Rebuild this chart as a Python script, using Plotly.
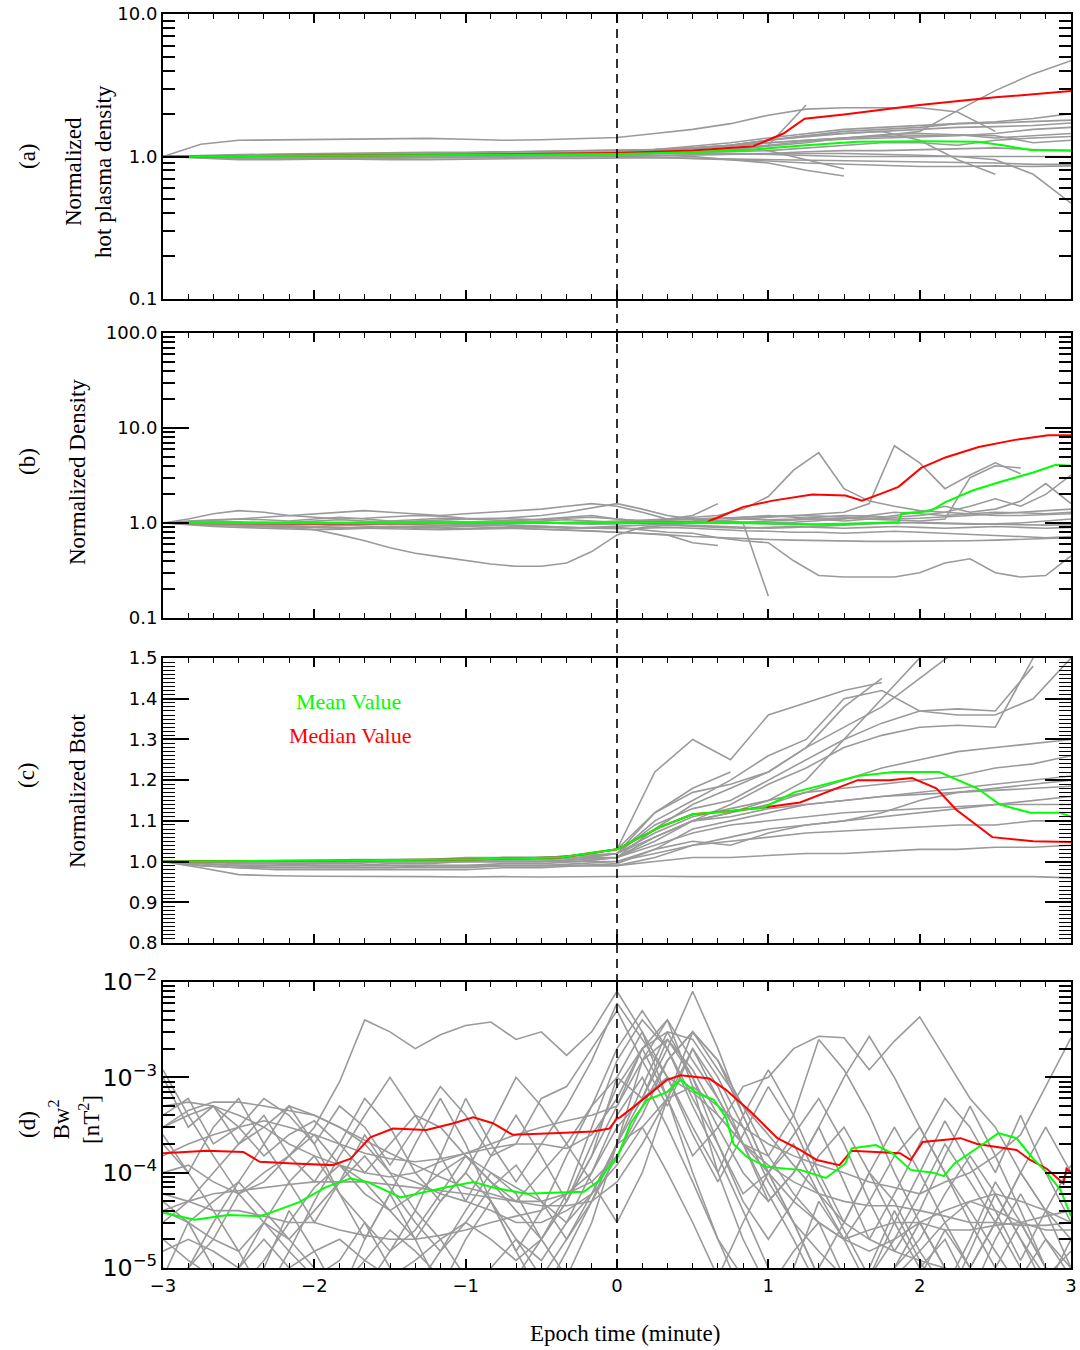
import plotly.graph_objects as go

# ---------------- time grids (minutes) ----------------
T_A = [-3.0, -2.75, -2.5, -2.25, -2.0, -1.75, -1.5, -1.25, -1.0, -0.75, -0.5, -0.25, 0.0,
       0.25, 0.5, 0.75, 1.0, 1.25, 1.5, 1.75, 2.0, 2.25, 2.5, 2.75, 3.0]
T_B = [-3.0, -2.833, -2.667, -2.5, -2.333, -2.167, -2.0, -1.833, -1.667, -1.5, -1.333, -1.167,
       -1.0, -0.833, -0.667, -0.5, -0.333, -0.167, 0.0, 0.167, 0.333, 0.5, 0.667, 0.833, 1.0,
       1.167, 1.333, 1.5, 1.667, 1.833, 2.0, 2.167, 2.333, 2.5, 2.667, 2.833, 3.0]
T_C = T_A
T_D = T_B

# ---------------- panel (a): normalized hot plasma density ----------------
a1 = [1.0, 1.22, 1.3, 1.31, 1.32, 1.33, 1.33, 1.34, 1.32, 1.3, 1.31, 1.33, 1.36, 1.45, 1.55, 1.7, 1.95, 2.15, 2.2, 2.2, 2.2, 2.05, 1.5, None, None]
a2 = [1.0, 1.01, 1.02, 1.02, 1.03, 1.03, 1.02, 1.03, 1.04, 1.04, 1.05, 1.06, 1.07, 1.1, 1.15, 1.2, 1.25, 1.3, 1.35, 1.4, 1.5, 2.1, 2.9, 3.8, 4.7]
a3 = [1.0, 0.98, 0.97, 0.97, 0.98, 0.99, 1.0, 1.0, 1.0, 1.01, 1.02, 1.04, 1.06, 1.08, 1.1, 1.12, 1.2, 2.3, None, None, None, None, None, None, None]
a4 = [1.0, 1.0, 0.99, 0.99, 0.98, 0.98, 0.99, 0.99, 1.0, 1.0, 1.0, 1.01, 1.02, 1.02, 1.0, 0.95, 0.9, 0.8, 0.73, None, None, None, None, None, None]
a5 = [1.0, 1.0, 0.99, 1.0, 1.01, 1.02, 1.02, 1.03, 1.03, 1.04, 1.05, 1.06, 1.08, 1.12, 1.18, 1.25, 1.35, 1.45, 1.55, 1.6, 1.65, 1.7, 1.72, 1.75, 1.8]
a6 = [1.0, 1.02, 1.03, 1.04, 1.05, 1.06, 1.06, 1.07, 1.07, 1.08, 1.08, 1.09, 1.1, 1.12, 1.15, 1.2, 1.3, 1.4, 1.5, 1.55, 1.6, 1.7, 1.75, 1.85, 2.0]
a7 = [1.0, 0.98, 0.97, 0.96, 0.97, 0.98, 0.98, 0.99, 1.0, 1.0, 1.01, 1.02, 1.03, 1.05, 1.08, 1.12, 1.18, 1.25, 1.35, 1.42, 1.45, 1.42, 1.35, 1.4, 1.45]
a8 = [1.0, 0.97, 0.95, 0.95, 0.96, 0.97, 0.97, 0.98, 0.98, 0.99, 1.0, 1.0, 1.0, 1.01, 1.02, 1.03, 1.05, 1.08, 1.1, 1.1, 1.12, 1.13, 1.15, 1.12, 1.1]
a9 = [1.0, 1.0, 1.01, 1.01, 1.02, 1.02, 1.03, 1.03, 1.04, 1.04, 1.05, 1.05, 1.06, 1.07, 1.1, 1.13, 1.2, 1.28, 1.32, 1.35, 1.38, 1.4, 1.45, 1.55, 1.6]
a10 = [1.0, 0.99, 0.98, 0.97, 0.96, 0.96, 0.95, 0.95, 0.96, 0.96, 0.97, 0.97, 0.98, 0.98, 0.97, 0.96, 0.95, 0.94, 0.93, 0.92, 0.92, 0.91, 0.9, 0.88, 0.88]
a11 = [1.0, 1.01, 1.02, 1.03, 1.03, 1.04, 1.05, 1.05, 1.06, 1.07, 1.08, 1.09, 1.1, 1.12, 1.14, 1.2, 1.3, 1.38, 1.45, 1.5, 1.55, 1.6, 1.62, 1.65, 1.72]
a12 = [1.0, 0.99, 0.99, 1.0, 1.0, 1.01, 1.01, 1.02, 1.02, 1.02, 1.03, 1.03, 1.04, 1.05, 1.06, 1.05, 1.03, 1.01, 1.0, 1.0, 1.0, 1.01, 1.0, 1.0, 1.0]
a13 = [1.0, 0.98, 0.97, 0.96, 0.96, 0.97, 0.98, 0.98, 0.99, 0.99, 1.0, 1.0, 1.01, 1.02, 1.03, 1.04, 1.05, 1.05, 1.05, 1.04, 1.02, 1.0, 0.95, 0.75, 0.47]
a14 = [1.0, 1.0, 1.0, 0.99, 0.99, 1.0, 1.0, 1.0, 1.01, 1.01, 1.02, 1.02, 1.03, 1.05, 1.08, 1.15, 1.1, 0.95, 0.82, None, None, None, None, None, None]
a15 = [1.0, 1.0, 0.99, 0.99, 1.0, 1.0, 1.01, 1.01, 1.02, 1.03, 1.04, 1.05, 1.06, 1.1, 1.15, 1.2, 1.3, 1.4, 1.45, 1.5, 1.3, 0.95, 0.75, None, None]
a16 = [1.0, 1.01, 1.01, 1.02, 1.02, 1.03, 1.04, 1.04, 1.05, 1.05, 1.06, 1.06, 1.07, 1.1, 1.13, 1.18, 1.25, 1.3, 1.35, 1.38, 1.4, 1.42, 1.4, 1.25, 1.3]
a17 = [1.0, 0.99, 0.98, 0.97, 0.97, 0.98, 0.99, 0.99, 1.0, 1.0, 1.0, 1.0, 1.0, 0.99, 0.97, 0.95, 0.93, 0.9, 0.88, 0.86, 0.85, 0.85, 0.86, 0.85, 0.86]
a18 = [1.0, 1.0, 1.0, 1.01, 1.01, 1.01, 1.02, 1.02, 1.02, 1.03, 1.03, 1.03, 1.04, 1.05, 1.06, 1.08, 1.1, 1.15, 1.2, 1.25, 1.25, 1.2, 1.3, 1.35, 1.38]
A_LINES = [a1, a2, a3, a4, a5, a6, a7, a8, a9, a10, a11, a12, a13, a14, a15, a16, a17, a18]

t_a_median = [-3.0, -2.0, -1.0, 0.0, 0.5, 0.9, 1.1, 1.24, 1.5, 2.0, 2.5, 3.0]
a_median = [1.0, 1.01, 1.03, 1.06, 1.1, 1.18, 1.45, 1.84, 1.97, 2.3, 2.6, 2.88]
t_a_mean = [-3.0, -2.0, -1.0, 0.0, 0.5, 0.9, 1.25, 1.59, 2.0, 2.38, 2.55, 2.73, 3.0]
a_mean = [1.0, 1.01, 1.02, 1.04, 1.07, 1.12, 1.2, 1.27, 1.28, 1.27, 1.2, 1.11, 1.1]

# ---------------- panel (b): normalized density ----------------
b1 = [1.0, 1.0, 0.98, 0.96, 0.93, 0.9, 0.85, 0.75, 0.65, 0.55, 0.48, 0.44, 0.4, 0.37, 0.35, 0.35, 0.38, 0.5, 0.75, 0.9, 0.95, 0.92, 0.9, 0.88, 0.9, 0.92, 0.9, 0.88, 0.9, 0.92, 0.9, 0.88, 0.9, 0.92, 0.9, 0.88, 0.9]
b2 = [1.0, 0.98, 0.97, 0.96, 0.95, 0.96, 0.97, 0.98, 0.97, 0.96, 0.95, 0.95, 0.96, 0.97, 0.95, 0.93, 0.9, 0.88, 0.9, 0.85, 0.8, 0.78, 0.7, 0.65, 0.62, 0.4, 0.28, 0.27, 0.27, 0.27, 0.3, 0.38, 0.42, 0.3, 0.27, 0.28, 0.45]
b3 = [1.0, 1.02, 1.05, 1.03, 1.0, 1.02, 1.05, 1.08, 1.05, 1.02, 1.05, 1.08, 1.1, 1.12, 1.1, 1.08, 1.12, 1.15, 1.1, 1.05, 1.1, 1.15, 1.2, 1.4, 1.9, 3.6, 5.5, 2.3, 1.7, 1.5, 1.35, 1.3, 1.25, 1.2, 1.2, 1.22, 1.25]
b4 = [1.0, 0.98, 0.97, 1.0, 1.02, 1.0, 0.98, 1.0, 1.02, 1.0, 0.98, 1.0, 1.02, 1.03, 1.05, 1.03, 1.0, 1.02, 1.05, 1.08, 1.1, 1.08, 1.05, 1.1, 1.15, 1.2, 1.25, 1.3, 1.6, 6.5, 4.3, 2.3, 3.2, 4.3, 3.3, None, None]
b5 = [1.0, 1.03, 1.05, 1.1, 1.15, 1.2, 1.25, 1.3, 1.35, 1.3, 1.25, 1.2, 1.25, 1.3, 1.35, 1.4, 1.5, 1.6, 1.5, 1.3, 1.1, 1.2, 1.6,
      None, None, None, None, None, None, None, None, None, None, None, None, None, None]
b6 = [1.0, 0.98, 0.96, 0.94, 0.92, 0.9, 0.92, 0.95, 0.93, 0.9, 0.88, 0.9, 0.92, 0.9, 0.88, 0.85, 0.83, 0.82, 0.8, 0.78, 0.75, 0.62, 0.58,
      None, None, None, None, None, None, None, None, None, None, None, None, None, None]
b7 = [1.0, 1.0, 1.02, 1.0, 0.98, 1.0, 1.02, 1.0, 0.98, 1.0, 1.02, 1.05, 1.03, 1.0, 1.02, 1.05, 1.08, 1.05, 1.02, 1.05, 1.08, 1.1, 1.12, 1.1, 1.08, 1.1, 1.15, 1.2, 1.18, 1.15, 1.2, 1.3, 1.5, 1.8, 1.5, 2.0, 3.2]
b8 = [1.0, 1.02, 1.0, 0.98, 0.97, 0.95, 0.97, 1.0, 1.02, 1.05, 1.03, 1.0, 0.98, 1.0, 1.02, 1.0, 0.98, 0.97, 0.98, 1.0, 1.02, 1.05, 1.1, 1.15, 1.2, 1.15, 1.1, 1.05, 1.1, 1.2, 1.3, 1.5, 1.3, 1.4, 1.7, 2.6, 1.6]
b9 = [1.0, 0.97, 0.95, 0.93, 0.92, 0.9, 0.9, 0.88, 0.9, 0.92, 0.9, 0.88, 0.87, 0.88, 0.9, 0.92, 0.9, 0.88, 0.87, 0.88, 0.9, 0.88, 0.85, 0.83, 0.82, 0.8, 0.8, 0.78, 0.8, 0.82, 0.8, 0.78, 0.77, 0.75, 0.72, 0.7, 0.72]
b10 = [1.0, 1.05, 1.08, 1.1, 1.08, 1.05, 1.1, 1.15, 1.1, 1.05, 1.08, 1.12, 1.1, 1.08, 1.05, 1.1, 1.15, 1.2, 1.1, 1.05, 1.08, 1.1, 1.05, 1.02, 1.0, 1.02, 1.05, 1.1, 1.2, 1.3, 1.25, 1.2, 1.25, 1.3, 1.28, 1.25, 1.3]
b11 = [1.0, 0.98, 0.96, 0.95, 0.94, 0.93, 0.92, 0.9, 0.88, 0.87, 0.86, 0.85, 0.86, 0.87, 0.88, 0.86, 0.85, 0.83, 0.8, 0.78, 0.75, 0.72, 0.7, 0.68, 0.67, 0.66, 0.65, 0.65, 0.64, 0.64, 0.64, 0.65, 0.65, 0.66, 0.67, 0.68, 0.7]
b12 = [1.0, 1.0, 1.01, 1.0, 0.99, 1.0, 1.01, 1.0, 0.99, 1.0, 1.01, 1.0, 0.99, 1.0, 1.01, 1.0, 0.99, 1.0, 1.01, 1.02, 1.03, 1.02, 1.0, 1.02, 1.05, 1.08, 1.1, 1.12, 1.1, 1.08, 1.05, 1.1, 3.0, 4.0, 3.8, None, None]
b13 = [1.0, 1.0, 1.0, 1.01, 1.02, 1.02, 1.01, 1.0, 1.0, 1.01, 1.02, 1.03, 1.02, 1.01, 1.0, 1.0, 1.01, 1.02, 1.03, 1.02, 1.01, 1.0, 1.0, 1.0, 0.17,
       None, None, None, None, None, None, None, None, None, None, None, None]
b14 = [1.0, 1.1, 1.25, 1.35, 1.3, 1.2, 1.15, 1.1, 1.12, 1.15, 1.2, 1.18, 1.12, 1.1, 1.15, 1.2, 1.3, 1.45, 1.6, 1.4, 1.2, 1.1, 1.05, 1.0, 0.98, 0.97, 0.96, 0.98, 1.0, 1.02, 1.0, 0.98, 0.97, 0.98, 1.0, 1.05, 1.1]
b15 = [1.0, 1.0, 1.01, 1.01, 1.0, 1.0, 1.01, 1.02, 1.01, 1.0, 1.0, 1.01, 1.02, 1.02, 1.01, 1.0, 1.01, 1.02, 1.03, 1.05, 1.07, 1.1, 1.12, 1.15, 1.18, 1.2, 1.18, 1.15, 1.12, 1.1, 1.12, 1.15, 1.2, 1.25, 1.3, 1.35, 1.4]
b16 = [1.0, 0.96, 0.92, 0.9, 0.88, 0.86, 0.85, 0.86, 0.88, 0.9, 0.92, 0.94, 0.95, 0.94, 0.92, 0.9, 0.88, 0.9, 0.93, 0.95, 0.97, 0.95, 0.93, 0.9, 0.88, 0.9, 0.92, 0.95, 0.98, 1.0, 1.02, 1.0, 0.98, 0.97, 0.96, 0.95, 0.96]
B_LINES = [b1, b2, b3, b4, b5, b6, b7, b8, b9, b10, b11, b12, b13, b14, b15, b16]

t_b_median = [-3.0, -2.0, -1.0, 0.0, 0.6, 0.62, 0.7, 0.83, 1.03, 1.29, 1.51, 1.62, 1.75, 1.86, 2.01, 2.17, 2.39, 2.63, 2.85, 3.0]
b_median = [1.0, 0.99, 1.0, 1.0, 1.02, 1.07, 1.2, 1.47, 1.72, 2.0, 1.95, 1.72, 2.05, 2.4, 3.8, 4.9, 6.3, 7.5, 8.4, 8.4]
t_b_mean = [-3.0, 0.0, 0.5, 1.0, 1.3, 1.6, 1.86, 1.88, 2.07, 2.17, 2.35, 2.53, 2.75, 2.9, 3.0]
b_mean = [1.0, 1.0, 1.02, 0.98, 0.97, 0.99, 1.02, 1.27, 1.33, 1.66, 2.2, 2.7, 3.4, 4.1, 4.0]

# ---------------- panel (c): normalized Btot ----------------
c1 = [1.0, 0.985, 0.968, 0.965, 0.964, 0.964, 0.963, 0.963, 0.962, 0.963, 0.962, 0.963, 0.963, 0.964, 0.963, 0.963, 0.962, 0.963, 0.962, 0.963, 0.962, 0.963, 0.963, 0.963, 0.96]
c2 = [1.0, 1.0, 1.0, 1.0, 1.0, 1.0, 1.0, 1.005, 1.005, 1.01, 1.01, 1.015, 1.03, 1.22, 1.3, 1.25, 1.36, 1.39, 1.42, 1.44, None, None, None, None, None]
c3 = [1.0, 1.0, 1.0, 1.0, 1.0, 1.0, 1.005, 1.005, 1.005, 1.01, 1.01, 1.015, 1.03, 1.12, 1.17, 1.19, 1.22, 1.28, 1.33, 1.38, 1.45, 1.52, 1.6, 1.7, 1.8]
c4 = [1.0, 1.0, 1.0, 0.995, 0.995, 1.0, 1.0, 1.0, 1.0, 1.005, 1.005, 1.01, 1.02, 1.09, 1.13, 1.15, 1.2, 1.25, 1.3, 1.34, 1.37, 1.375, 1.37, 1.48, None]
c5 = [1.0, 1.0, 0.995, 0.995, 0.99, 0.99, 0.995, 0.995, 1.0, 1.0, 1.0, 1.005, 1.01, 1.05, 1.1, 1.14, 1.19, 1.23, 1.28, 1.31, 1.33, 1.335, 1.33, 1.5, 1.7]
c6 = [1.0, 0.995, 0.99, 0.99, 0.99, 0.99, 0.99, 0.99, 0.99, 0.995, 0.995, 1.0, 1.01, 1.06, 1.1, 1.12, 1.14, 1.17, 1.2, 1.23, 1.25, 1.27, 1.28, 1.29, 1.3]
c7 = [1.0, 1.0, 1.0, 1.0, 1.0, 1.005, 1.005, 1.005, 1.01, 1.01, 1.01, 1.015, 1.02, 1.07, 1.11, 1.13, 1.15, 1.17, 1.18, 1.19, 1.2, 1.21, 1.23, 1.24, 1.26]
c8 = [1.0, 0.995, 0.99, 0.985, 0.985, 0.985, 0.985, 0.985, 0.985, 0.99, 0.99, 0.99, 0.995, 1.03, 1.08, 1.1, 1.12, 1.14, 1.15, 1.16, 1.17, 1.18, 1.19, 1.2, 1.21]
c9 = [1.0, 1.0, 1.0, 1.0, 1.0, 1.0, 1.0, 1.0, 1.0, 1.005, 1.005, 1.01, 1.02, 1.06, 1.1, 1.11, 1.13, 1.14, 1.15, 1.16, 1.165, 1.17, 1.175, 1.18, 1.185]
c10 = [1.0, 0.99, 0.985, 0.98, 0.98, 0.98, 0.98, 0.98, 0.98, 0.985, 0.985, 0.99, 0.99, 1.01, 1.04, 1.06, 1.08, 1.09, 1.1, 1.11, 1.12, 1.13, 1.14, 1.15, 1.16]
c11 = [1.0, 1.0, 0.995, 0.995, 0.995, 0.995, 1.0, 1.0, 1.0, 1.0, 1.0, 1.0, 1.01, 1.04, 1.07, 1.09, 1.1, 1.11, 1.12, 1.125, 1.13, 1.135, 1.14, 1.14, 1.14]
c12 = [1.0, 0.995, 0.99, 0.99, 0.99, 0.99, 0.99, 0.99, 0.99, 0.99, 0.99, 0.995, 1.0, 1.02, 1.04, 1.05, 1.06, 1.07, 1.075, 1.08, 1.085, 1.09, 1.09, 1.1, 1.1]
c13 = [1.0, 1.0, 1.0, 1.0, 1.0, 1.0, 1.0, 1.0, 1.0, 1.0, 1.0, 1.0, 1.0, 1.03, 1.05, 1.04, 1.07, 1.09, 1.1, 1.12, 1.15, 1.17, 1.18, 1.19, 1.2]
c14 = [1.0, 1.0, 1.0, 1.0, 1.0, 1.0, 1.0, 1.0, 1.005, 1.005, 1.005, 1.01, 1.01, 1.06, 1.1, 1.12, 1.15, 1.2, 1.3, 1.4, 1.5, 1.6, 1.7, 1.8, 1.9]
c15 = [1.0, 1.0, 1.0, 1.0, 1.0, 1.0, 1.0, 1.0, 1.0, 1.0, 1.0, 1.005, 1.02, 1.12, 1.18, 1.22, None, None, None, None, None, None, None, None, None]
c16 = [1.0, 1.0, 1.0, 1.0, 1.0, 1.0, 1.0, 1.0, 1.0, 1.0, 1.0, 1.005, 1.01, 1.08, 1.14, 1.18, 1.22, 1.28, 1.38, 1.45, None, None, None, None, None]
c17 = [1.0, 0.99, 0.985, 0.985, 0.985, 0.985, 0.985, 0.99, 0.99, 0.99, 0.99, 0.99, 0.99, 1.0, 1.01, 1.01, 1.015, 1.02, 1.02, 1.025, 1.03, 1.03, 1.035, 1.035, 1.04]
c18 = [1.0, 1.0, 1.0, 1.0, 1.0, 1.0, 1.0, 1.0, 1.005, 1.005, 1.01, 1.01, 1.02, 1.1, 1.15, 1.2, 1.26, 1.3, 1.4, 1.42, 1.37, 1.36, 1.36, 1.4, 1.5]
C_LINES = [c1, c2, c3, c4, c5, c6, c7, c8, c9, c10, c11, c12, c13, c14, c15, c16, c17, c18]

t_c_median = [-3.0, -1.0, -0.38, 0.0, 0.28, 0.5, 0.72, 0.97, 1.21, 1.59, 1.8, 1.95, 2.11, 2.24, 2.48, 2.75, 3.0]
c_median = [1.0, 1.005, 1.01, 1.03, 1.084, 1.116, 1.123, 1.133, 1.145, 1.2, 1.2, 1.205, 1.18, 1.128, 1.06, 1.05, 1.048]
t_c_mean = [-3.0, -1.0, -0.38, 0.0, 0.28, 0.5, 0.72, 0.97, 1.17, 1.59, 1.83, 2.13, 2.38, 2.53, 2.73, 2.93, 3.0]
c_mean = [1.0, 1.005, 1.01, 1.03, 1.084, 1.116, 1.123, 1.133, 1.17, 1.21, 1.22, 1.22, 1.18, 1.14, 1.12, 1.12, 1.11]

# ---------------- panel (d): wave power Bw^2 [nT^2] ----------------
d1 = [1.2e-3, 4e-4, 1.5e-4, 6e-5, 3e-5, 1.5e-5, 8e-6, 1.2e-5, 3e-5, 1e-5, 6e-6, 1.5e-5, 4e-5, 1e-4, 6e-5, 2e-5, 8e-6, 3e-5, 2e-4, 1.5e-3, 4e-3, 8e-4, 1e-4, 2e-5, 6e-6, 1.5e-5, 3e-5, 8e-6, 4e-6, 1e-5, 3e-5, 1e-5, 5e-6, 2e-5, 6e-5, 2e-5, 8e-6]
d2 = [8e-6, 1e-5, 2e-5, 6e-5, 1e-4, 1.5e-4, 3e-4, 9e-4, 4e-3, 3e-3, 2e-3, 2.8e-3, 3.5e-3, 3.8e-3, 2.5e-3, 3e-3, 1.7e-3, 3e-3, 8e-3, 3e-3, 6e-4, 1e-4, 2e-5, 5e-6, 2e-6, 5e-6, 1e-5, 3e-6, 2e-6, 4e-6, 1e-5, 2e-5, 6e-6, 3e-6, 2e-6, 3e-6, 5e-6]
d3 = [5e-4, 5.5e-4, 5e-4, 4e-4, 3e-4, 2e-4, 1.5e-4, 1.2e-4, 1e-4, 9e-5, 1e-4, 1.3e-4, 1.6e-4, 2e-4, 2.5e-4, 3e-4, 3.5e-4, 4e-4, 5e-4, 1.5e-3, 2.5e-3, 1.2e-3, 4e-4, 2e-4, 1e-4, 5e-5, 3e-5, 2e-5, 1.5e-5, 2e-5, 3e-5, 4e-5, 5e-5, 4e-5, 3e-5, 3.5e-5, 4e-5]
d4 = [1e-3, 3e-4, 5e-4, 2e-4, 4e-4, 1.5e-4, 8e-5, 2e-4, 6e-4, 3e-4, 1e-4, 5e-5, 1e-4, 3e-4, 1e-3, 5e-4, 2e-4, 5e-4, 2e-3, 5e-3, 2e-3, 6e-4, 2e-4, 5e-5, 2e-5, 5e-5, 1.5e-4, 3e-4, 1e-4, 3e-5, 1e-5, 4e-6, 1e-5, 3e-5, 1e-4, 3e-4, 1e-4]
d5 = [4e-5, 5e-5, 6e-5, 6.5e-5, 7e-5, 7.5e-5, 8e-5, 8e-5, 8e-5, 7.5e-5, 7e-5, 6.5e-5, 6e-5, 5.5e-5, 5e-5, 4.5e-5, 4.5e-5, 5e-5, 8e-5, 2e-4, 6e-4, 3e-3, 1.5e-3, 5e-4, 1.5e-4, 6e-5, 3e-5, 2e-5, 2.5e-5, 3e-5, 3e-5, 2.5e-5, 2.5e-5, 2.8e-5, 3e-5, 2.5e-5, 2.5e-5]
d6 = [3e-4, 4e-4, 5e-4, 3e-4, 1.5e-4, 2.5e-4, 3.5e-4, 2e-4, 1e-4, 2e-4, 4e-4, 3e-4, 1.5e-4, 8e-5, 5e-5, 1e-4, 2e-4, 8e-5, 3e-5, 1e-4, 6e-4, 2e-3, 8e-4, 2e-4, 1.5e-4, 4e-4, 2.5e-3, 1.2e-3, 4e-4, 1e-4, 3e-5, 1e-5, 5e-6, 1e-5, 3e-5, 1e-5, 5e-6]
d7 = [2e-5, 1.2e-5, 8e-6, 1e-5, 3e-5, 2e-5, 1e-5, 6e-6, 1.2e-5, 2.5e-5, 1.5e-5, 8e-6, 5e-6, 1e-5, 2e-5, 1.2e-5, 3e-5, 1e-4, 4e-4, 1e-3, 3e-4, 8e-5, 2e-5, 8e-6, 3e-6, 1e-5, 5e-5, 2e-5, 6e-6, 4e-6, 8e-6, 2.5e-5, 1e-5, 4e-6, 8e-6, 2e-5, 1e-5]
d8 = [1e-4, 1.2e-4, 8e-5, 6e-5, 8e-5, 1.5e-4, 2.5e-4, 1.2e-4, 6e-5, 4e-5, 6e-5, 1e-4, 1.5e-4, 1e-4, 7e-5, 5e-5, 3e-5, 6e-5, 2e-4, 8e-4, 3e-3, 1e-3, 2e-4, 6e-5, 1e-4, 2e-4, 6e-5, 2e-5, 5e-5, 1.5e-4, 3e-4, 1e-4, 4e-5, 1.5e-5, 6e-6, 3e-6, 5e-6]
d9 = [5e-5, 3e-5, 2e-5, 1.5e-5, 3e-5, 8e-5, 1.5e-4, 6e-5, 3e-5, 1.5e-5, 2.5e-5, 6e-5, 1.5e-4, 8e-5, 4e-5, 2e-5, 5e-5, 2e-4, 8e-4, 2e-3, 6e-4, 1.5e-4, 3e-4, 8e-4, 1e-3, 2e-3, 2.7e-3, 2.6e-3, 1.2e-3, 2.4e-3, 4.3e-3, 1.6e-3, 6e-4, 3e-4, 1e-4, 4e-5, 2e-5]
d10 = [3e-5, 5e-5, 1e-4, 2e-4, 3e-4, 5e-4, 4e-4, 3e-4, 2e-4, 1e-4, 8e-5, 6e-5, 5e-5, 4e-5, 3e-5, 3e-5, 4e-5, 6e-5, 1.2e-4, 3e-4, 6e-4, 8e-4, 5e-4, 3e-4, 2e-4, 1.5e-4, 1.2e-4, 1e-4, 8e-5, 7e-5, 6e-5, 8e-5, 1e-4, 1.5e-4, 2.5e-4, 8e-4, 2.6e-3]
d11 = [6e-5, 5e-5, 4e-5, 4e-5, 3.5e-5, 3e-5, 3e-5, 2.5e-5, 2.2e-5, 2e-5, 2e-5, 2.2e-5, 2.5e-5, 3e-5, 3.5e-5, 4e-5, 6e-5, 1e-4, 3e-4, 6e-4, 1e-3, 7e-4, 4e-4, 2e-4, 1.2e-4, 8e-5, 6e-5, 5e-5, 4.5e-5, 4.5e-5, 4e-5, 3.5e-5, 3e-5, 3e-5, 2.8e-5, 2.8e-5, 3e-5]
d12 = [4e-4, 6e-4, 2e-4, 3e-4, 6e-4, 4e-4, 2e-4, 5e-4, 3e-4, 1.2e-4, 3e-4, 8e-4, 4e-4, 1.5e-4, 2e-4, 6e-4, 8e-4, 2e-3, 5e-3, 1.5e-3, 5e-4, 2e-3, 6e-4, 2e-4, 5e-5, 1e-4, 3e-4, 8e-5, 2e-5, 6e-5, 2e-4, 6e-4, 3e-4, 1e-4, 4e-4, 1e-4, 3e-5]
d13 = [8e-6, 3e-5, 1e-5, 4e-6, 1e-5, 4e-5, 1.5e-5, 5e-6, 2e-5, 6e-5, 2e-5, 6e-6, 2e-5, 5e-5, 1.5e-5, 5e-6, 1.5e-5, 5e-5, 2e-4, 3e-4, 1e-4, 3e-5, 8e-6, 3e-5, 1e-4, 3e-5, 8e-6, 3e-6, 1e-5, 4e-5, 1.2e-5, 4e-6, 1.5e-5, 6e-5, 2e-5, 6e-6, 2e-5]
d14 = [2e-4, 1e-4, 3e-4, 6e-4, 2e-4, 8e-5, 3e-5, 8e-5, 2.5e-4, 1e-4, 4e-5, 1.5e-4, 6e-4, 2e-4, 8e-5, 2e-4, 5e-4, 1.5e-3, 6e-3, 2.5e-3, 1e-3, 3e-4, 1e-4, 4e-4, 1.2e-3, 4e-4, 1e-4, 3e-5, 1e-4, 3e-4, 1e-4, 3e-5, 1e-5, 3e-5, 1e-4, 4e-5, 1e-5]
d15 = [1.5e-5, 2e-5, 1.5e-5, 1e-5, 7e-6, 1e-5, 1.5e-5, 2e-5, 1.2e-5, 8e-6, 1.2e-5, 2e-5, 3e-5, 2e-5, 1.2e-5, 2e-5, 6e-5, 3e-4, 1.5e-3, 4e-3, 2e-3, 5e-4, 1.5e-4, 4e-5, 1e-5, 4e-6, 1e-5, 3e-5, 1e-4, 5e-5, 1.5e-5, 6e-6, 2e-5, 8e-5, 3e-5, 1e-5, 5e-6]
d16 = [1.5e-4, 2e-4, 2.5e-4, 3e-4, 3.5e-4, 3e-4, 2.5e-4, 2e-4, 1.6e-4, 1.4e-4, 1.3e-4, 1.4e-4, 1.6e-4, 1.8e-4, 2e-4, 2e-4, 1.8e-4, 2.5e-4, 6e-4, 2e-3, 3e-3, 2.5e-3, 1e-3, 3e-4, 8e-5, 3e-5, 1.5e-5, 8e-6, 5e-6, 8e-6, 1.5e-5, 3e-5, 5e-5, 6e-5, 5e-5, 4e-5, 3e-5]
d17 = [5e-6, 1e-5, 3e-5, 8e-5, 2e-4, 5e-4, 2e-4, 6e-5, 2e-5, 6e-5, 2e-4, 6e-4, 2e-4, 5e-5, 1.5e-5, 4e-5, 1.5e-4, 5e-4, 1e-3, 6e-4, 2e-3, 8e-3, 2e-3, 4e-4, 1e-4, 2.5e-4, 6e-4, 2e-4, 5e-5, 1.5e-5, 4e-5, 1.5e-4, 5e-4, 1.5e-4, 4e-5, 1e-5, 4e-6]
d18 = [4e-5, 3e-5, 5e-5, 8e-5, 4e-5, 2e-5, 4e-5, 8e-5, 1.5e-4, 7e-5, 3e-5, 1.5e-5, 3e-5, 7e-5, 1.2e-4, 5e-5, 2e-5, 5e-5, 1.5e-4, 5e-4, 1.5e-3, 3e-3, 1.5e-3, 4e-4, 1e-4, 3e-5, 8e-6, 4e-6, 8e-6, 2e-5, 6e-5, 2e-4, 8e-5, 3e-5, 1e-5, 3e-6, 2e-6]
d19 = [1e-5, 5e-6, 3e-6, 6e-6, 1.2e-5, 3e-5, 7e-5, 1.2e-4, 8e-5, 4e-5, 2e-5, 5e-5, 1e-4, 5e-5, 2e-5, 8e-6, 2e-5, 6e-5, 2e-4, 6e-4, 2.5e-3, 1e-3, 3e-4, 1e-4, 5e-5, 1e-4, 3e-4, 1e-3, 2.7e-3, 1e-3, 3e-4, 1e-4, 3e-5, 1e-5, 3e-6, 1e-6, 1e-6]
d20 = [3e-4, 4.5e-4, 5.5e-4, 5.5e-4, 5e-4, 4.5e-4, 4e-4, 3e-4, 2.2e-4, 1.6e-4, 1.2e-4, 9e-5, 7e-5, 6e-5, 5e-5, 5e-5, 6e-5, 8e-5, 1.5e-4, 4e-4, 1.5e-3, 3e-3, 1.2e-3, 5e-4, 2.5e-4, 1.2e-4, 6e-5, 3e-5, 2e-5, 1.5e-5, 1.2e-5, 1e-5, 8e-6, 6e-6, 5e-6, 4e-6, 3e-6]
d21 = [2.5e-4, 1e-4, 4e-5, 1.5e-5, 5e-6, 1.5e-5, 5e-5, 1.5e-4, 4e-4, 1e-3, 4e-4, 1.5e-4, 5e-5, 1.5e-4, 4e-4, 1.5e-4, 5e-5, 1.5e-4, 1e-3, 3e-3, 1e-3, 2.5e-4, 8e-5, 2.5e-4, 8e-4, 3e-4, 8e-5, 2.5e-5, 8e-6, 3e-5, 1e-4, 3.5e-4, 1.2e-4, 4e-5, 1.2e-5, 4e-5, 1.2e-4]
d22 = [1e-5, 8e-6, 6e-6, 1e-5, 2e-5, 1e-5, 5e-6, 3e-6, 6e-6, 1.5e-5, 4e-5, 2e-5, 8e-6, 4e-6, 8e-6, 2e-5, 5e-5, 1.5e-4, 5e-4, 2e-3, 4e-3, 1.5e-3, 6e-4, 2e-4, 6e-5, 2e-5, 6e-6, 3e-6, 5e-6, 1e-5, 2e-5, 6e-5, 1.5e-4, 6e-5, 2e-5, 8e-6, 1.5e-5]
D_LINES = [d1, d2, d3, d4, d5, d6, d7, d8, d9, d10, d11, d12, d13, d14, d15, d16, d17, d18, d19, d20, d21, d22]

t_d_median = [-3.0, -2.71, -2.47, -2.36, -2.14, -1.88, -1.76, -1.63, -1.48, -1.26, -1.08, -0.95, -0.82, -0.69,
              -0.38, -0.16, -0.05, 0.0, 0.02, 0.11, 0.33, 0.42, 0.61, 0.72, 0.88, 1.06, 1.21, 1.32, 1.47, 1.55,
              1.87, 1.94, 2.02, 2.27, 2.38, 2.64, 2.73, 2.84, 2.95, 2.97, 3.0]
d_median = [1.6e-4, 1.7e-4, 1.65e-4, 1.3e-4, 1.25e-4, 1.2e-4, 1.4e-4, 2.35e-4, 2.9e-4, 2.8e-4, 3.3e-4, 3.8e-4, 3.3e-4, 2.5e-4,
            2.6e-4, 2.7e-4, 2.9e-4, 3.7e-4, 3.8e-4, 4.9e-4, 9.4e-4, 1.05e-3, 9.7e-4, 7.4e-4, 4.4e-4, 2.3e-4, 1.73e-4, 1.36e-4, 1.2e-4, 1.7e-4,
            1.6e-4, 1.36e-4, 2.1e-4, 2.3e-4, 2.0e-4, 1.73e-4, 1.36e-4, 1.1e-4, 7.7e-5, 1.1e-4, 1e-4]
t_d_mean = [-3.0, -2.79, -2.57, -2.36, -2.27, -2.1, -1.92, -1.76, -1.65, -1.43, -1.15, -0.95, -0.82, -0.6, -0.38, -0.22,
            -0.11, -0.07, 0.0, 0.09, 0.2, 0.33, 0.42, 0.53, 0.64, 0.72, 0.77, 0.86, 0.99, 1.21, 1.38, 1.51, 1.55, 1.71,
            1.82, 1.94, 2.09, 2.16, 2.23, 2.32, 2.41, 2.52, 2.64, 2.75, 2.84, 2.93, 3.0]
d_mean = [3.8e-5, 3.2e-5, 3.6e-5, 3.5e-5, 3.9e-5, 4.9e-5, 7.1e-5, 8.7e-5, 8e-5, 5.5e-5, 6.9e-5, 8e-5, 7e-5, 6e-5, 6.2e-5, 6.3e-5,
          8.4e-5, 1.07e-4, 1.4e-4, 3.3e-4, 5.8e-4, 7e-4, 9.4e-4, 6.8e-4, 5.8e-4, 3.8e-4, 2.0e-4, 1.45e-4, 1.15e-4, 1.07e-4, 8.8e-5, 1.25e-4, 1.8e-4, 1.95e-4,
          1.6e-4, 1.07e-4, 1e-4, 9.2e-5, 1.25e-4, 1.55e-4, 1.95e-4, 2.6e-4, 2.3e-4, 1.4e-4, 1e-4, 6.6e-5, 3.5e-5]

# ---------------- styling ----------------
GRAY = "#9a9a9a"
RED = "#ff0000"
GREEN = "#00ff00"
TICKFONT = dict(family="DejaVu Sans", size=18, color="black")
SERIF = "Liberation Serif"

W, H = 1080, 1350
ML, MR, MT, MB = 163, 9, 14, 82
PH = H - MT - MB


def py(px):
    """pixel row -> paper y"""
    return (H - MB - px) / PH


def px_x(px):
    return (px - ML) / (W - ML - MR)


fig = go.Figure()

PANELS = [
    (T_A, A_LINES, t_a_median, a_median, t_a_mean, a_mean, "x", "y"),
    (T_B, B_LINES, t_b_median, b_median, t_b_mean, b_mean, "x2", "y2"),
    (T_C, C_LINES, t_c_median, c_median, t_c_mean, c_mean, "x3", "y3"),
    (T_D, D_LINES, t_d_median, d_median, t_d_mean, d_mean, "x4", "y4"),
]
for T, lines, tm, med, tn, mean, xa, ya in PANELS:
    for ys in lines:
        fig.add_trace(go.Scatter(x=T, y=ys, mode="lines", line=dict(color=GRAY, width=1.6),
                                 xaxis=xa, yaxis=ya, showlegend=False, hoverinfo="skip"))
    fig.add_trace(go.Scatter(x=tm, y=med, mode="lines", line=dict(color=RED, width=2),
                             xaxis=xa, yaxis=ya, showlegend=False, hoverinfo="skip"))
    fig.add_trace(go.Scatter(x=tn, y=mean, mode="lines", line=dict(color=GREEN, width=2),
                             xaxis=xa, yaxis=ya, showlegend=False, hoverinfo="skip"))


def xaxis(anchor, labels):
    return dict(range=[-3, 3], domain=[0, 1], anchor=anchor, tickmode="linear", tick0=-3, dtick=1,
                ticks="inside", ticklen=9, tickwidth=1.5, tickcolor="black",
                showline=True, linecolor="black", linewidth=2, mirror="allticks",
                showgrid=False, zeroline=False, showticklabels=labels, tickfont=TICKFONT,
                automargin=False,
                minor=dict(ticks="inside", dtick=1 / 6, tick0=-3, ticklen=5, tickwidth=1.2,
                           tickcolor="black", showgrid=False))


def ylog(anchor, dom, rng, fmt=None, power=False):
    d = dict(type="log", range=rng, domain=dom, anchor=anchor, tickmode="linear", tick0=0, dtick=1,
             ticks="inside", ticklen=26, tickwidth=1.5, tickcolor="black",
             showline=True, linecolor="black", linewidth=2, mirror="allticks",
             showgrid=False, zeroline=False, tickfont=TICKFONT, automargin=False,
             minor=dict(ticks="inside", dtick="D1", ticklen=12, tickwidth=1.5,
                        tickcolor="black", showgrid=False))
    if fmt:
        d["tickformat"] = fmt
    if power:
        d["exponentformat"] = "power"
        d["tickfont"] = dict(family="DejaVu Sans", size=19, color="black")
    return d


dom_a = [py(299), 1.0]
dom_b = [py(618), py(333)]
dom_c = [py(943), py(658)]
dom_d = [0.0, py(982)]

fig.update_layout(
    width=W, height=H,
    margin=dict(l=ML, r=MR, t=MT, b=MB, autoexpand=False),
    paper_bgcolor="white", plot_bgcolor="white",
    showlegend=False,
    xaxis=xaxis("y", False),
    xaxis2=xaxis("y2", False),
    xaxis3=xaxis("y3", False),
    xaxis4=xaxis("y4", True),
    yaxis=ylog("x", dom_a, [-1, 1], fmt=".1f"),
    yaxis2=ylog("x2", dom_b, [-1, 2], fmt=".1f"),
    yaxis3=dict(range=[0.8, 1.5], domain=dom_c, anchor="x3", tickmode="linear", tick0=0.8, dtick=0.1,
                tickformat=".1f", ticks="inside", ticklen=26, tickwidth=1.5, tickcolor="black",
                showline=True, linecolor="black", linewidth=2, mirror="allticks",
                showgrid=False, zeroline=False, tickfont=TICKFONT, automargin=False,
                minor=dict(ticks="inside", dtick=0.01, tick0=0.8, ticklen=12, tickwidth=1.2,
                           tickcolor="black", showgrid=False)),
    yaxis4=ylog("x4", dom_d, [-5, -2], power=True),
)

# dashed epoch line across all panels
fig.add_shape(type="line", xref="x4", yref="paper", x0=0, x1=0, y0=0, y1=1,
              line=dict(color="black", width=1.6, dash="9px,6px"), layer="above")

ann_font = dict(family=SERIF, size=23, color="black")
annotations = [
    ("(a)", 27, 156), ("Normalized<br>hot plasma density", 88, 172),
    ("(b)", 27, 462), ("Normalized Density", 77, 472),
    ("(c)", 27, 775), ("Normalized Btot", 77, 791),
    ("(d)", 27, 1125), ("Bw<sup>2</sup><br>[nT<sup>2</sup>]", 74, 1120),
]
for text, xp, yp in annotations:
    fig.add_annotation(text=text, xref="paper", yref="paper", x=px_x(xp), y=py(yp),
                       textangle=-90, showarrow=False, font=ann_font,
                       xanchor="center", yanchor="middle")

fig.add_annotation(text="Epoch time (minute)", xref="paper", yref="paper", x=px_x(625), y=py(1333),
                   showarrow=False, font=ann_font, xanchor="center", yanchor="middle")
fig.add_annotation(text="Mean Value", xref="paper", yref="paper", x=px_x(348), y=py(701),
                   showarrow=False, font=dict(family=SERIF, size=22, color=GREEN),
                   xanchor="center", yanchor="middle")
fig.add_annotation(text="Median Value", xref="paper", yref="paper", x=px_x(350), y=py(735),
                   showarrow=False, font=dict(family=SERIF, size=22, color=RED),
                   xanchor="center", yanchor="middle")

fig.write_html("out.html")
